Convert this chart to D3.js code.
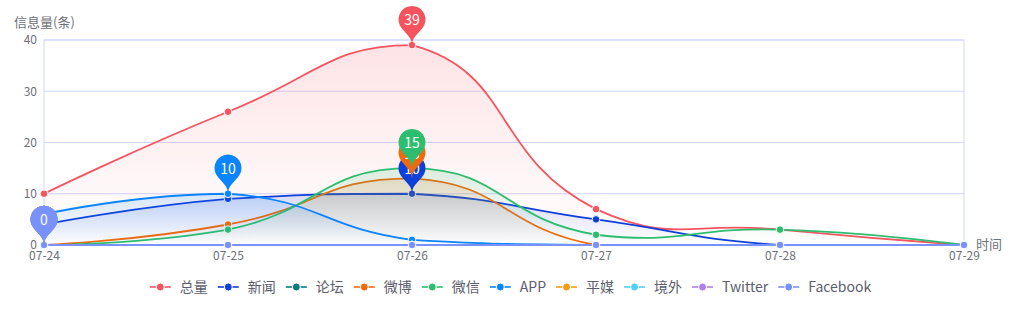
<!DOCTYPE html>
<html lang="zh">
<head>
<meta charset="UTF-8">
<title>信息量</title>
<script src="https://d3js.org/d3.v7.min.js"></script>
<style>
    html, body { margin: 0; padding: 0; background: #fff; }
    svg { display: block; font-family: "Noto Sans CJK SC", "Noto Sans", sans-serif; }
</style>
</head>
<body>
<script>
    var dates = ["07-24", "07-25", "07-26", "07-27", "07-28", "07-29"];
    var yTicks = [0, 10, 20, 30, 40];

    var names  = ["总量", "新闻", "论坛", "微博", "微信", "APP", "平媒", "境外", "Twitter", "Facebook"];
    var colors = ["#f5545f", "#0f3fdb", "#087a80", "#ef6a0e", "#2dbd6e", "#0a84ff", "#f39c12", "#4dd0fb", "#b07ee8", "#7891fd"];

    var total    = [10, 26, 39, 7, 3, 0];
    var news     = [4, 9, 10, 5, 0, 0];
    var forum    = [0, 0, 0, 0, 0, 0];
    var weibo    = [0, 4, 13, 0, 0, 0];
    var weixin   = [0, 3, 15, 2, 3, 0];
    var app      = [6, 10, 1, 0, 0, 0];
    var print    = [0, 0, 0, 0, 0, 0];
    var overseas = [0, 0, 0, 0, 0, 0];
    var twitter  = [0, 0, 0, 0, 0, 0];
    var facebook = [0, 0, 0, 0, 0, 0];
    var values = [total, news, forum, weibo, weixin, app, print, overseas, twitter, facebook];

    var W = 1021, H = 324;
    var gLeft = 44, gRight = 964, gTop = 40, gBottom = 245;

    var svg = d3.select("body").append("svg")
        .attr("width", W)
        .attr("height", H);

    var x = d3.scalePoint().domain(dates).range([gLeft, gRight]);
    var y = d3.scaleLinear().domain([0, 40]).range([gBottom, gTop]);

    // grid
    svg.append("g")
        .selectAll("line")
        .data(yTicks)
        .join("line")
        .attr("x1", gLeft).attr("x2", gRight)
        .attr("y1", function(d){ return y(d); })
        .attr("y2", function(d){ return y(d); })
        .attr("stroke", "#cdd6fc")
        .attr("stroke-width", 1);
    svg.append("rect")
        .attr("x", gLeft).attr("y", gTop)
        .attr("width", gRight - gLeft).attr("height", gBottom - gTop)
        .attr("fill", "none")
        .attr("stroke", "#cdd6fc");

    // axes
    var yAxis = svg.append("g")
        .attr("transform", "translate(" + gLeft + ",0)")
        .call(d3.axisLeft(y).tickValues(yTicks).tickSize(0).tickPadding(7));
    var xAxis = svg.append("g")
        .attr("transform", "translate(0," + gBottom + ")")
        .call(d3.axisBottom(x).tickSize(0).tickPadding(6));
    [xAxis, yAxis].forEach(function(a) {
        a.select(".domain").remove();
        a.selectAll("text")
            .attr("fill", "#6e7079")
            .style("font-size", "12px")
            .style("font-family", "'Noto Sans CJK SC', sans-serif");
    });

    svg.append("text")
        .attr("x", 14).attr("y", 22)
        .attr("dy", "0.35em")
        .attr("fill", "#6e7079")
        .style("font-size", "13px")
        .text("信息量(条)");
    svg.append("text")
        .attr("x", 976).attr("y", 244)
        .attr("dy", "0.35em")
        .attr("fill", "#6e7079")
        .style("font-size", "13px")
        .text("时间");

    // smoothing like echarts 4 (smooth 0.5, bounding box constraint)
    function smoothLine(pts, smooth, p) {
        var minX = d3.min(pts, function(d){ return d[0]; }), maxX = d3.max(pts, function(d){ return d[0]; });
        var minY = d3.min(pts, function(d){ return d[1]; }), maxY = d3.max(pts, function(d){ return d[1]; });
        function clamp(c) {
            return [Math.max(minX, Math.min(maxX, c[0])), Math.max(minY, Math.min(maxY, c[1]))];
        }
        function dist(a, b) { return Math.sqrt((a[0]-b[0])*(a[0]-b[0]) + (a[1]-b[1])*(a[1]-b[1])); }
        var cp0 = pts[0].slice(), cp1, v = [0, 0];
        p.moveTo(pts[0][0], pts[0][1]);
        for (var i = 1; i < pts.length; i++) {
            var cur = pts[i], prev = pts[i-1], next = pts[i+1];
            var ratio = 0.5;
            if (!next) {
                cp1 = cur.slice();
            } else {
                v = [next[0] - prev[0], next[1] - prev[1]];
                var d0 = dist(cur, prev), d1 = dist(cur, next);
                ratio = d1 / (d0 + d1);
                cp1 = [cur[0] - v[0] * smooth * (1 - ratio), cur[1] - v[1] * smooth * (1 - ratio)];
            }
            cp0 = clamp(cp0); cp1 = clamp(cp1);
            p.bezierCurveTo(cp0[0], cp0[1], cp1[0], cp1[1], cur[0], cur[1]);
            cp0 = [cur[0] + v[0] * smooth * ratio, cur[1] + v[1] * smooth * ratio];
        }
        return p;
    }

    var defs = svg.append("defs");

    values.forEach(function(vals, i) {
        var pts = vals.map(function(v, j){ return [x(dates[j]), y(v)]; });
        var g = svg.append("g");

        if (d3.max(vals) > 0) {
            var grad = defs.append("linearGradient")
                .attr("id", "area" + i)
                .attr("x1", 0).attr("y1", 0).attr("x2", 0).attr("y2", 1);
            grad.append("stop").attr("offset", 0).attr("stop-color", colors[i]).attr("stop-opacity", 0.16);
            grad.append("stop").attr("offset", 1).attr("stop-color", colors[i]).attr("stop-opacity", 0);

            var ap = smoothLine(pts, 0.5, d3.path());
            ap.lineTo(pts[pts.length-1][0], y(0));
            ap.lineTo(pts[0][0], y(0));
            ap.closePath();
            g.append("path")
                .attr("d", ap.toString())
                .attr("fill", "url(#area" + i + ")");
        }

        g.append("path")
            .attr("d", smoothLine(pts, 0.5, d3.path()).toString())
            .attr("fill", "none")
            .attr("stroke", colors[i])
            .attr("stroke-width", 1.8);

        g.selectAll("circle")
            .data(vals)
            .join("circle")
            .attr("cx", function(d, j){ return x(dates[j]); })
            .attr("cy", function(d){ return y(d); })
            .attr("r", 3.8)
            .attr("fill", colors[i])
            .attr("stroke", "#fff")
            .attr("stroke-width", 1);
    });

    // max pins (echarts 'pin' symbol, size 45)
    function pinPath(px, py, size) {
        var w = size / 5 * 3, h = Math.max(w, size), r = w / 2;
        var dy = r * r / (h - r);
        var cy = py - h + r + dy;
        var angle = Math.asin(dy / r);
        var dx = Math.cos(angle) * r;
        var tanX = Math.sin(angle), tanY = Math.cos(angle);
        var cpLen = r * 0.6, cpLen2 = r * 0.7;
        var p = d3.path();
        p.moveTo(px - dx, cy + dy);
        p.arc(px, cy, r, Math.PI - angle, Math.PI * 2 + angle);
        p.bezierCurveTo(px + dx - tanX * cpLen, cy + dy + tanY * cpLen, px, py - cpLen2, px, py);
        p.bezierCurveTo(px, py - cpLen2, px - dx + tanX * cpLen, cy + dy + tanY * cpLen, px - dx, cy + dy);
        p.closePath();
        return { d: p.toString(), cy: cy };
    }

    var pins = svg.append("g");
    values.forEach(function(vals, i) {
        var mx = d3.max(vals), j = vals.indexOf(mx);
        var pin = pinPath(x(dates[j]), y(mx), 45);
        var g = pins.append("g");
        g.append("path").attr("d", pin.d).attr("fill", colors[i]);
        g.append("text")
            .attr("x", x(dates[j]))
            .attr("y", pin.cy + 1)
            .attr("dy", "0.35em")
            .attr("text-anchor", "middle")
            .attr("fill", "#fff")
            .style("font-size", "14px")
            .text(mx);
    });

    // legend
    var legend = svg.append("g").attr("transform", "translate(0,287)");
    var items = legend.selectAll("g")
        .data(names)
        .join("g");
    items.append("line")
        .attr("x1", 0).attr("x2", 21)
        .attr("stroke", function(d, i){ return colors[i]; })
        .attr("stroke-width", 1.6);
    items.append("circle")
        .attr("cx", 10.5).attr("r", 4)
        .attr("fill", function(d, i){ return colors[i]; })
        .attr("stroke", "#fff");
    items.append("text")
        .attr("x", 30)
        .attr("dy", "0.35em")
        .attr("fill", "#5b5d6e")
        .style("font-size", "14px")
        .text(function(d){ return d; });

    var widths = [];
    items.select("text").each(function(){ widths.push(this.getComputedTextLength()); });
    var totalW = d3.sum(widths, function(w){ return 30 + w; }) + 10 * (names.length - 1);
    var lx = (W - totalW) / 2;
    items.attr("transform", function(d, i) {
        var t = "translate(" + lx + ",0)";
        lx += 30 + widths[i] + 10;
        return t;
    });
</script>
</body>
</html>
